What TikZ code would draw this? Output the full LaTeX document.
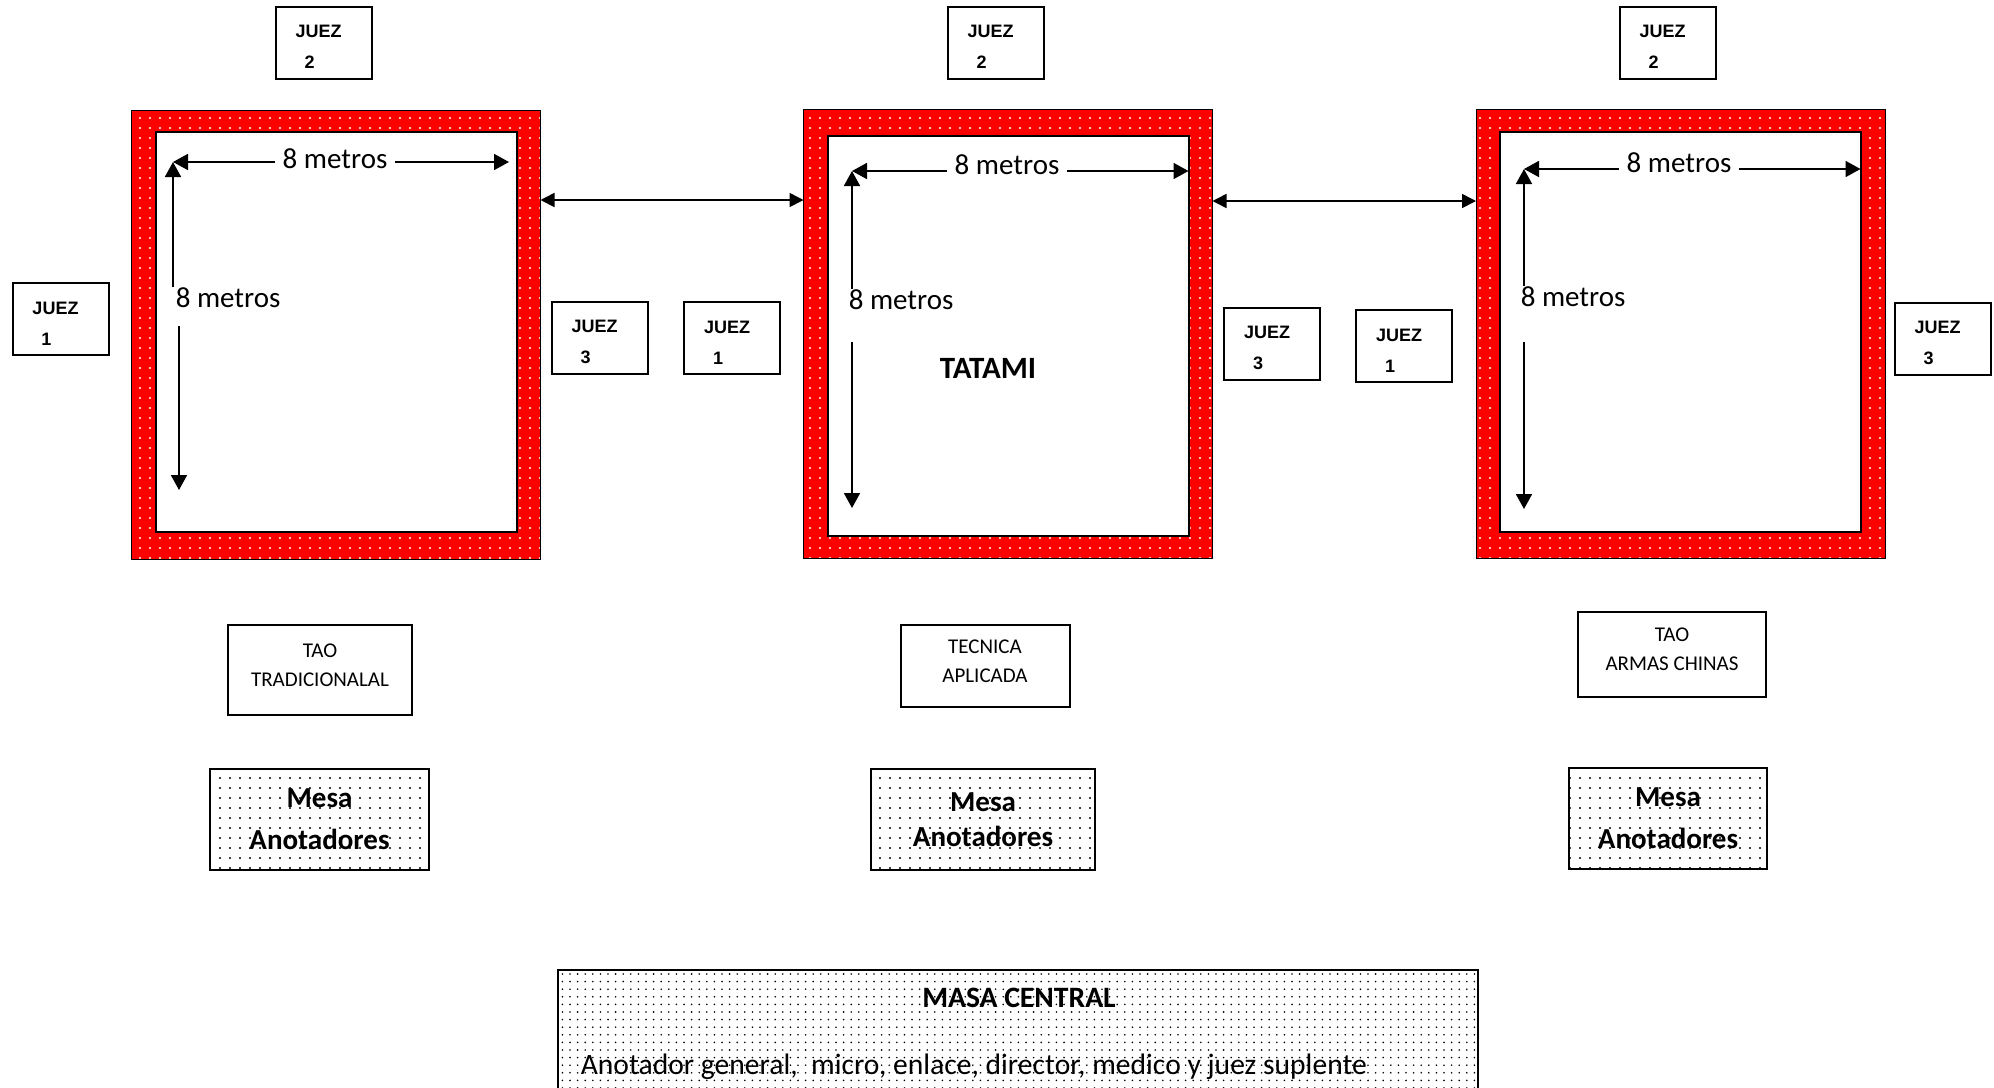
\documentclass[tikz,border=0pt]{standalone}
\usepackage{fontspec}
\setmainfont{Carlito}
\newfontfamily\juezfont{Liberation Sans}
\usetikzlibrary{patterns.meta,arrows.meta}

\tikzset{every picture/.style={line width=0.75pt}}
\tikzset{
  tatami/.style={draw=black, line width=0.5pt, preaction={fill=red}, pattern={Dots[distance=5pt,radius=0.55pt]}, pattern color=white, minimum width=204.5pt, minimum height=224.5pt, inner sep=0pt, outer sep=0pt},
  piso/.style={draw=black, line width=1pt, fill=white, minimum width=180.5pt, minimum height=200pt, inner sep=0pt, outer sep=0pt},
  juez/.style={draw, line width=1pt, fill=white, minimum width=48pt, minimum height=36pt, text width=28pt, text height=10.5pt, inner xsep=10pt, align=left, font=\juezfont\bfseries\fontsize{9}{15.5}\selectfont},
  categoria/.style={draw, line width=1pt, inner sep=0pt, text depth=5pt, align=center, font=\fontsize{10.5}{14.5}\selectfont},
  mesa/.style={draw, line width=1pt, inner sep=0pt, pattern={Dots[distance=5pt,radius=0.6pt]}, pattern color=black, align=center, font=\bfseries\fontsize{14.5}{21}\selectfont},
  medida/.style={font=\fontsize{14.5}{17}\selectfont, inner xsep=3.5pt, inner ysep=0pt},
  flecha/.style={line width=0.9pt, -{Triangle[length=7.5pt,width=8pt]}},
  enlace/.style={line width=0.8pt, {Triangle[length=7pt,width=7pt]}-{Triangle[length=7pt,width=7pt]}},
}

\begin{document}
\begin{tikzpicture}[x=0.5pt,y=0.5pt,yscale=-1,xscale=1]
	\path[use as bounding box, fill=white] (0,0) rectangle (1994,1088);

	%Tatamis
	\node[tatami] (tatami1) at (336,334.5) {};
	\node[piso] (piso1) at (336.5,332) {};
	\node[tatami] (tatami2) at (1008,333.5) {};
	\node[piso] (piso2) at (1008,335.5) {};
	\node[tatami] (tatami3) at (1680.5,334) {};
	\node[piso] (piso3) at (1680,332) {};

	%Links between tatamis
	\draw[enlace] (tatami1.east |- 0,200) -- (tatami2.west |- 0,200);
	\draw[enlace] (tatami2.east |- 0,201) -- (tatami3.west |- 0,201);

	%Measures tatami 1
	\coordinate (esq1) at (173,162);
	\node[medida] (ancho1) at (335,159) {8 metros};
	\draw[flecha] (ancho1.west |- esq1) -- (esq1);
	\draw[flecha, shorten >=4pt] (ancho1.east |- esq1) -- (piso1.east |- esq1);
	\node[medida, anchor=west, inner sep=0pt] (alto1) at (175,298) {8 metros};
	\draw[flecha] (esq1 |- alto1.north) -- (esq1);
	\coordinate (baja1) at (179,326);
	\draw[flecha] (baja1) -- ++(0,164);

	%Measures tatami 2
	\coordinate (esq2) at (852,171);
	\node[medida] (ancho2) at (1007,165) {8 metros};
	\draw[flecha] (ancho2.west |- esq2) -- (esq2);
	\draw[flecha] (ancho2.east |- esq2) -- (piso2.east |- esq2);
	\node[medida, anchor=west, inner sep=0pt] (alto2) at (848,300) {8 metros};
	\draw[flecha] (esq2 |- alto2.north) -- (esq2);
	\coordinate (baja2) at (852,342);
	\draw[flecha] (baja2) -- ++(0,166);
	\node[font=\bfseries\fontsize{15.5}{18}\selectfont] (nombre2) at (988,368) {TATAMI};

	%Measures tatami 3
	\coordinate (esq3) at (1524,169);
	\node[medida] (ancho3) at (1679,163) {8 metros};
	\draw[flecha] (ancho3.west |- esq3) -- (esq3);
	\draw[flecha] (ancho3.east |- esq3) -- (piso3.east |- esq3);
	\node[medida, anchor=west, inner sep=0pt] (alto3) at (1520,297) {8 metros};
	\draw[flecha] (esq3 |- alto3.north) -- (esq3);
	\coordinate (baja3) at (1524,342);
	\draw[flecha] (baja3) -- ++(0,167);

	%Judges
	\node[juez] (juezA1) at (60.5,319) {JUEZ\\\hspace*{4.5pt}1};
	\node[juez] (juezA2) at (323.5,42.5) {JUEZ\\\hspace*{4.5pt}2};
	\node[juez] (juezA3) at (599.5,338) {JUEZ\\\hspace*{4.5pt}3};
	\node[juez] (juezB1) at (732,338) {JUEZ\\\hspace*{4.5pt}1};
	\node[juez] (juezB2) at (995.5,42.5) {JUEZ\\\hspace*{4.5pt}2};
	\node[juez] (juezB3) at (1272,344) {JUEZ\\\hspace*{4.5pt}3};
	\node[juez] (juezC1) at (1404,346) {JUEZ\\\hspace*{4.5pt}1};
	\node[juez] (juezC2) at (1667.5,42.5) {JUEZ\\\hspace*{4.5pt}2};
	\node[juez] (juezC3) at (1942.5,339) {JUEZ\\\hspace*{4.5pt}3};

	%Categories
	\node[categoria, minimum width=92pt, minimum height=45pt] (cat1) at (320,670) {TAO\\TRADICIONALAL};
	\node[categoria, minimum width=84.5pt, minimum height=41pt] (cat2) at (985,666) {TECNICA\\APLICADA};
	\node[categoria, minimum width=94pt, minimum height=42.5pt] (cat3) at (1672,654) {TAO\\ARMAS CHINAS};

	%Score tables
	\node[mesa, minimum width=109.5pt, minimum height=50.5pt] (mesa1) at (319.5,819.5) {Mesa\\Anotadores};
	\node[mesa, minimum width=112pt, minimum height=50.5pt, font=\bfseries\fontsize{14.5}{17.5}\selectfont] (mesa2) at (983,819.5) {Mesa\\Anotadores};
	\node[mesa, minimum width=99pt, minimum height=50.5pt] (mesa3) at (1668,818.5) {Mesa\\Anotadores};

	%Central table
	\node[mesa, anchor=north west, minimum width=460pt, minimum height=70pt, pattern={Dots[distance=3.8pt,radius=0.45pt]}] (central) at (557,969) {};
	\node[font=\bfseries\fontsize{14.8}{17}\selectfont] (tituloC) at (1019,998) {MASA CENTRAL};
	\node[anchor=west, inner sep=0pt, font=\fontsize{14.8}{17}\selectfont] (listaC) at (580,1067) {Anotador general,\ \ micro, enlace, director, medico y juez suplente};

\end{tikzpicture}
\end{document}
